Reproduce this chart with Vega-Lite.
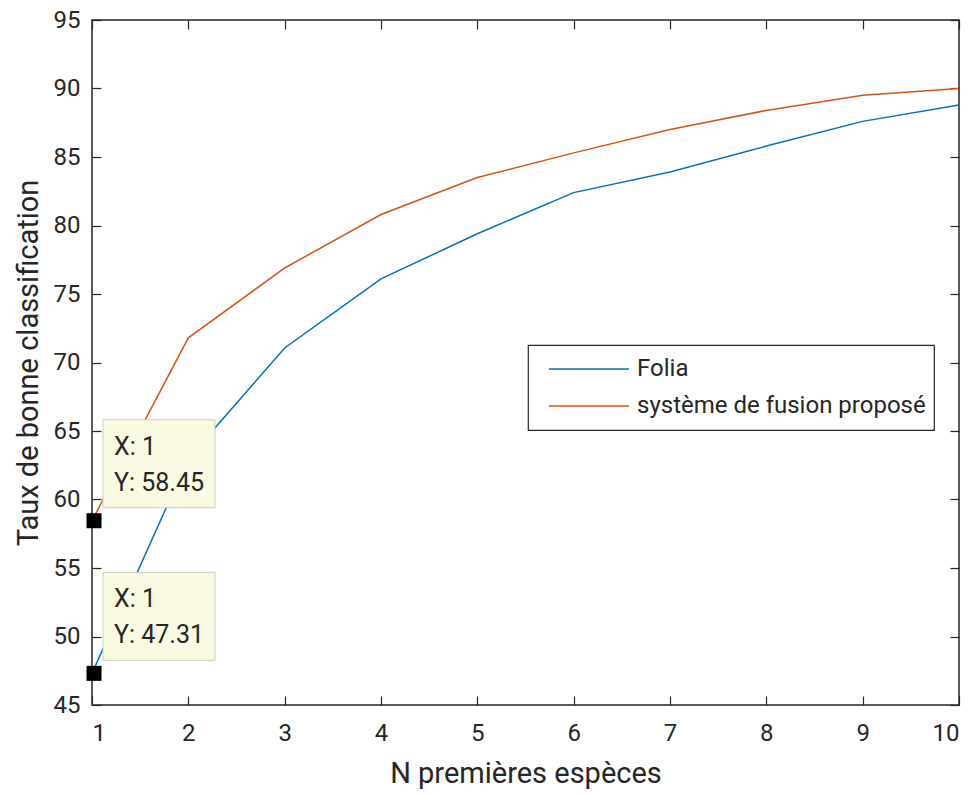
{
  "$schema": "https://vega.github.io/schema/vega-lite/v6.json",
  "width": 867,
  "height": 685,
  "autosize": {"type": "none"},
  "padding": {"left": 92, "top": 20, "right": 17, "bottom": 89},
  "background": "white",
  "config": {
    "font": "Roboto",
    "view": {"stroke": "#262626", "strokeWidth": 1.5},
    "axis": {
      "domain": false,
      "grid": false,
      "tickColor": "#262626",
      "tickSize": -9,
      "tickWidth": 1.2,
      "labelFont": "Roboto",
      "labelFontSize": 24,
      "labelColor": "#262626",
      "titleFont": "Roboto",
      "titleFontSize": 29,
      "titleFontWeight": "normal",
      "titleColor": "#262626"
    },
    "legend": {
      "orient": "none",
      "legendX": 436,
      "legendY": 325,
      "fillColor": "white",
      "strokeColor": "#262626",
      "strokeWidth": 1.2,
      "padding": 8,
      "symbolType": "stroke",
      "symbolSize": 6400,
      "symbolStrokeWidth": 1.5,
      "symbolOffset": 12,
      "labelOffset": 7,
      "clipHeight": 32,
      "rowPadding": 5,
      "labelFont": "Roboto",
      "labelFontSize": 24,
      "labelColor": "#262626",
      "labelLimit": 400,
      "title": null
    }
  },
  "datasets": {
    "series": [
      {"N": 1, "taux": 47.31, "methode": "Folia"},
      {"N": 2, "taux": 63.0, "methode": "Folia"},
      {"N": 3, "taux": 71.06, "methode": "Folia"},
      {"N": 4, "taux": 76.1, "methode": "Folia"},
      {"N": 5, "taux": 79.4, "methode": "Folia"},
      {"N": 6, "taux": 82.4, "methode": "Folia"},
      {"N": 7, "taux": 83.9, "methode": "Folia"},
      {"N": 8, "taux": 85.8, "methode": "Folia"},
      {"N": 9, "taux": 87.6, "methode": "Folia"},
      {"N": 10, "taux": 88.8, "methode": "Folia"},
      {"N": 1, "taux": 58.45, "methode": "système de fusion proposé"},
      {"N": 2, "taux": 71.8, "methode": "système de fusion proposé"},
      {"N": 3, "taux": 76.9, "methode": "système de fusion proposé"},
      {"N": 4, "taux": 80.8, "methode": "système de fusion proposé"},
      {"N": 5, "taux": 83.5, "methode": "système de fusion proposé"},
      {"N": 6, "taux": 85.3, "methode": "système de fusion proposé"},
      {"N": 7, "taux": 87.0, "methode": "système de fusion proposé"},
      {"N": 8, "taux": 88.4, "methode": "système de fusion proposé"},
      {"N": 9, "taux": 89.5, "methode": "système de fusion proposé"},
      {"N": 10, "taux": 90.0, "methode": "système de fusion proposé"}
    ],
    "tips": [
      {"N": 1, "taux": 58.45, "lx": "X: 1", "ly": "Y: 58.45"},
      {"N": 1, "taux": 47.31, "lx": "X: 1", "ly": "Y: 47.31"}
    ]
  },
  "layer": [
    {
      "data": {"name": "series"},
      "mark": {"type": "line", "strokeWidth": 1.5},
      "encoding": {
        "x": {
          "field": "N", "type": "quantitative",
          "scale": {"domain": [1, 10], "nice": false},
          "axis": {"values": [1,2,3,4,5,6,7,8,9,10], "format": "d", "title": "N premières espèces", "labelPadding": 25, "titlePadding": 14}
        },
        "y": {
          "field": "taux", "type": "quantitative",
          "scale": {"domain": [45, 95], "nice": false, "zero": false},
          "axis": {"values": [45,50,55,60,65,70,75,80,85,90,95], "title": "Taux de bonne classification", "labelPadding": 21, "titlePadding": 10}
        },
        "color": {
          "field": "methode", "type": "nominal",
          "scale": {"domain": ["Folia", "système de fusion proposé"], "range": ["#0072BD", "#D95319"]},
          "legend": {"title": null}
        }
      }
    },
    {
      "data": {"name": "series"},
      "mark": {"type": "line", "opacity": 0},
      "encoding": {
        "x": {
          "field": "N", "type": "quantitative",
          "scale": {"domain": [1, 10], "nice": false},
          "axis": {"orient": "top", "values": [1,2,3,4,5,6,7,8,9,10], "labels": false, "title": null}
        },
        "y": {
          "field": "taux", "type": "quantitative",
          "scale": {"domain": [45, 95], "nice": false, "zero": false},
          "axis": {"orient": "right", "values": [45,50,55,60,65,70,75,80,85,90,95], "labels": false, "title": null}
        }
      }
    },
    {
      "data": {"name": "tips"},
      "mark": {"type": "rect", "fill": "#FAFAE3", "stroke": "#cdcdbd", "strokeWidth": 1, "xOffset": 11, "x2Offset": 123, "yOffset": -101, "y2Offset": -13},
      "encoding": {
        "x": {"field": "N", "type": "quantitative", "axis": null},
        "x2": {"field": "N"},
        "y": {"field": "taux", "type": "quantitative", "axis": null},
        "y2": {"field": "taux"}
      }
    },
    {
      "data": {"name": "tips"},
      "mark": {"type": "point", "shape": "square", "filled": true, "color": "black", "opacity": 1, "size": 225, "xOffset": 2},
      "encoding": {
        "x": {"field": "N", "type": "quantitative", "axis": null},
        "y": {"field": "taux", "type": "quantitative", "axis": null}
      }
    },
    {
      "data": {"name": "tips"},
      "mark": {"type": "text", "align": "left", "baseline": "middle", "dx": 22, "dy": -74, "fontSize": 25, "font": "Roboto", "color": "#262626"},
      "encoding": {
        "x": {"field": "N", "type": "quantitative", "axis": null},
        "y": {"field": "taux", "type": "quantitative", "axis": null},
        "text": {"field": "lx"}
      }
    },
    {
      "data": {"name": "tips"},
      "mark": {"type": "text", "align": "left", "baseline": "middle", "dx": 22, "dy": -38, "fontSize": 25, "font": "Roboto", "color": "#262626"},
      "encoding": {
        "x": {"field": "N", "type": "quantitative", "axis": null},
        "y": {"field": "taux", "type": "quantitative", "axis": null},
        "text": {"field": "ly"}
      }
    }
  ],
  "resolve": {"axis": {"x": "independent", "y": "independent"}}
}
